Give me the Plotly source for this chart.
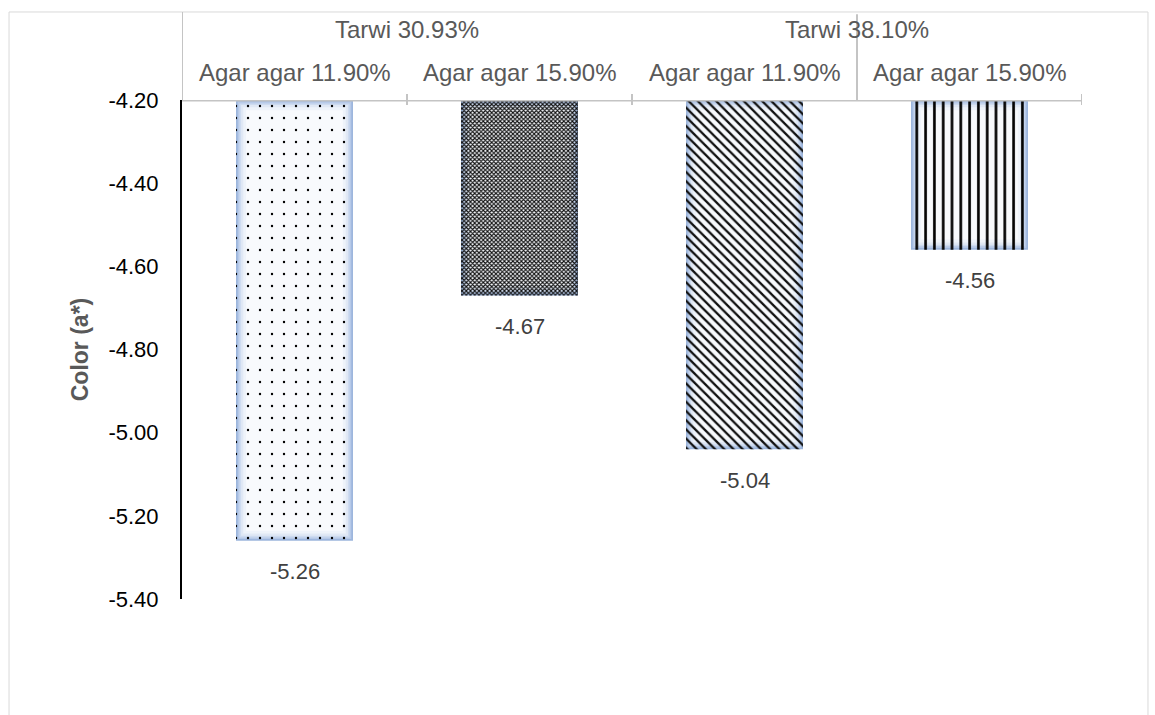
import plotly.graph_objects as go

sub_labels = ["Agar agar 11.90%", "Agar agar 15.90%", "Agar agar 11.90%", "Agar agar 15.90%"]
group_labels = ["Tarwi 30.93%", "Tarwi 38.10%"]
values = [-5.26, -4.67, -5.04, -4.56]
axis_base = -4.20
y_ticks = [-4.20, -4.40, -4.60, -4.80, -5.00, -5.20, -5.40]

clear = "rgba(0,0,0,0)"
patterns = [
    dict(shape=".", size=12, solidity=0.03, fgcolor="#000000", bgcolor=clear, fillmode="replace"),
    dict(shape="x", size=3, solidity=0.6, fgcolor="#111111", bgcolor=clear, fillmode="replace"),
    dict(shape="\\", size=6.5, solidity=0.35, fgcolor="#111111", bgcolor=clear, fillmode="replace"),
    dict(shape="|", size=8.8, solidity=0.3, fgcolor="#000000", bgcolor=clear, fillmode="replace"),
]

# edge-glow layers (outer -> inner): bar width and fill colour
glow_widths = [0.52, 0.505, 0.49, 0.475, 0.455, 0.43]
glow_colors = ["#9db6dd", "#b6c9e8", "#cddbf0", "#e0e8f5", "#eef3fa", "#f8fafd"]
px_per_unit_y = 499 / 1.2
px_per_unit_x = 225.0

xs = list(range(len(values)))
fig = go.Figure()
for i, v in enumerate(values):
    for w, c in zip(glow_widths, glow_colors):
        inset = (0.52 - w) / 2 * px_per_unit_x / px_per_unit_y
        fig.add_trace(go.Bar(
            x=[xs[i]], y=[v - axis_base + 2 * inset], base=[axis_base - inset], width=w,
            marker=dict(color=c, line=dict(width=0)),
            showlegend=False, hoverinfo="skip"))
    fig.add_trace(go.Bar(
        x=[xs[i]], y=[v - axis_base], base=[axis_base], width=0.52,
        marker=dict(color=clear, pattern=patterns[i], line=dict(width=0)),
        showlegend=False, hoverinfo="skip"))

font = "Liberation Sans, Arial, sans-serif"
fs = 22
fs_cat = 24
annotations = []
for i, v in enumerate(values):
    annotations.append(dict(x=xs[i], y=v, xref="x", yref="y", text=f"{v:.2f}",
                            showarrow=False, yshift=-31,
                            font=dict(family=font, size=fs, color="#404040")))
for i, lab in enumerate(sub_labels):
    annotations.append(dict(x=xs[i], y=1.056, xref="x", yref="paper", text=lab,
                            showarrow=False, yanchor="middle",
                            font=dict(family=font, size=fs_cat, color="#595959")))
for g, lab in enumerate(group_labels):
    annotations.append(dict(x=0.5 + 2 * g, y=1.142, xref="x", yref="paper", text=lab,
                            showarrow=False, yanchor="middle",
                            font=dict(family=font, size=fs_cat, color="#595959")))

grey = "#c4c4c4"
shapes = [
    dict(type="rect", xref="paper", yref="paper", x0=-0.1922, x1=1.0733, y0=-0.26, y1=1.1764,
         line=dict(color="#d9d9d9", width=1), layer="below"),
    dict(type="line", xref="x", yref="y", x0=-0.5, x1=3.5, y0=axis_base, y1=axis_base,
         line=dict(color=grey, width=3)),
    dict(type="line", xref="x", yref="paper", x0=-0.5, x1=-0.5, y0=1.0, y1=1.1764,
         line=dict(color=grey, width=2)),
    dict(type="line", xref="x", yref="paper", x0=2.5, x1=2.5, y0=1.0, y1=1.172,
         line=dict(color=grey, width=2)),
]
for tx in [0.5, 1.5, 3.5]:
    shapes.append(dict(type="line", xref="x", yref="paper", x0=tx, x1=tx, y0=0.99, y1=1.012,
                       line=dict(color=grey, width=2)))

fig.update_layout(
    width=1155, height=715,
    margin=dict(l=182, r=73, t=100, b=116),
    paper_bgcolor="white", plot_bgcolor="white",
    barmode="overlay",
    xaxis=dict(range=[-0.5, 3.5], showticklabels=False, showgrid=False, zeroline=False,
               showline=False, ticks=""),
    yaxis=dict(range=[-5.40, -4.20], tickvals=y_ticks, ticktext=[f"{t:.2f}" for t in y_ticks],
               showgrid=False, zeroline=False, showline=True, linecolor="#000000", linewidth=2,
               ticks="", ticklabelstandoff=17,
               tickfont=dict(family=font, size=fs, color="#000000"),
               title=dict(text="<b>Color (a*)</b>", standoff=13,
                          font=dict(family=font, size=23, color="#595959"))),
    annotations=annotations, shapes=shapes,
)
fig.write_html("out.html")
